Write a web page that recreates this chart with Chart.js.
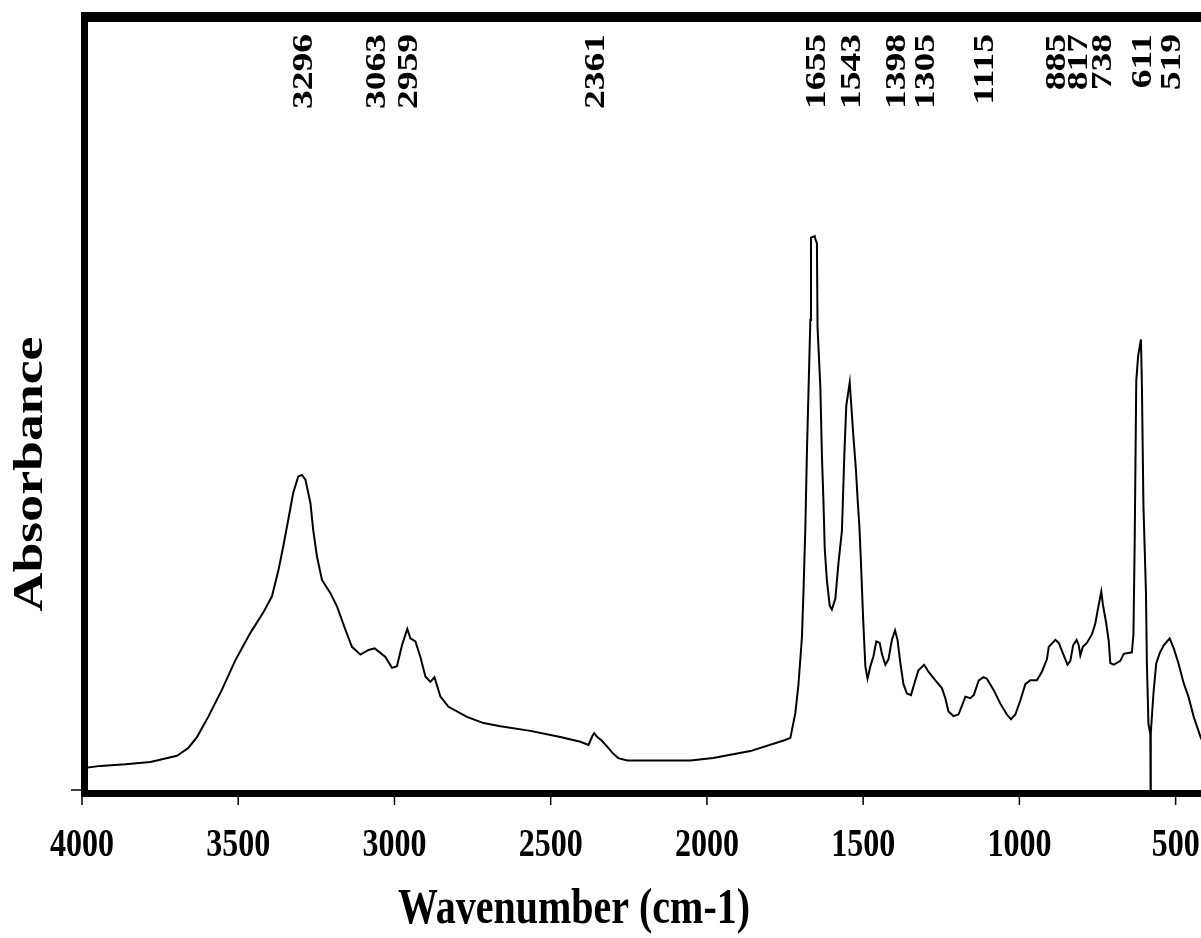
<!DOCTYPE html>
<html>
<head>
<meta charset="utf-8">
<title>FTIR spectrum</title>
<script src="https://cdn.jsdelivr.net/npm/chart.js@4/dist/chart.umd.min.js"></script>
<style>
  html, body { margin: 0; padding: 0; background: #ffffff; overflow: hidden; }
  #wrap { width: 1215px; height: 938px; }
</style>
</head>
<body>
<div id="wrap"><canvas id="spectrum" width="1215" height="938"></canvas></div>
<script>
// Wavenumber (cm-1) and absorbance (arbitrary units) of the measured spectrum
const wavenumbers = [4000, 3941, 3861, 3781, 3696, 3660, 3632, 3596, 3552, 3509, 3461, 3420, 3392, 3371, 3356, 3340, 3324, 3308, 3296, 3285, 3269, 3260, 3248, 3232, 3205, 3184, 3157, 3136, 3109, 3083, 3063, 3029, 3008, 2992, 2976, 2959, 2949, 2933, 2917, 2901, 2885, 2872, 2853, 2827, 2768, 2715, 2661, 2565, 2469, 2405, 2379, 2367, 2361, 2351, 2338, 2322, 2303, 2284, 2255, 2053, 1980, 1861, 1752, 1733, 1717, 1707, 1696, 1691, 1685, 1680, 1675, 1669, 1667, 1655, 1653, 1648, 1646, 1637, 1632, 1627, 1623, 1616, 1607, 1600, 1589, 1579, 1568, 1560, 1554, 1543, 1538, 1531, 1523, 1518, 1512, 1507, 1500, 1493, 1486, 1477, 1467, 1458, 1447, 1440, 1429, 1419, 1408, 1398, 1390, 1381, 1371, 1360, 1347, 1333, 1323, 1305, 1291, 1269, 1248, 1237, 1227, 1211, 1195, 1184, 1173, 1157, 1146, 1130, 1115, 1104, 1083, 1061, 1040, 1027, 1013, 997, 981, 965, 944, 928, 912, 906, 885, 874, 860, 846, 837, 828, 817, 810, 805, 797, 784, 768, 757, 750, 738, 733, 722, 714, 709, 698, 677, 666, 640, 635, 631, 626, 620, 611, 608, 603, 595, 592, 587, 581, 580, 579, 571, 562, 551, 538, 519, 506, 491, 474, 459, 442, 421, 400];

const absorbance = [0.028, 0.031, 0.033, 0.036, 0.044, 0.054, 0.068, 0.094, 0.129, 0.167, 0.202, 0.228, 0.249, 0.283, 0.313, 0.347, 0.382, 0.403, 0.405, 0.399, 0.369, 0.334, 0.300, 0.270, 0.253, 0.236, 0.206, 0.184, 0.174, 0.180, 0.182, 0.171, 0.157, 0.159, 0.186, 0.207, 0.195, 0.191, 0.171, 0.146, 0.139, 0.145, 0.120, 0.107, 0.094, 0.086, 0.082, 0.076, 0.068, 0.062, 0.058, 0.069, 0.073, 0.068, 0.064, 0.057, 0.048, 0.041, 0.038, 0.038, 0.041, 0.050, 0.064, 0.067, 0.099, 0.136, 0.196, 0.255, 0.338, 0.434, 0.512, 0.604, 0.710, 0.712, 0.708, 0.703, 0.595, 0.517, 0.430, 0.370, 0.310, 0.269, 0.237, 0.232, 0.246, 0.292, 0.333, 0.434, 0.494, 0.524, 0.494, 0.453, 0.411, 0.375, 0.338, 0.292, 0.219, 0.159, 0.143, 0.159, 0.172, 0.191, 0.189, 0.175, 0.161, 0.168, 0.193, 0.205, 0.193, 0.163, 0.136, 0.124, 0.122, 0.141, 0.154, 0.161, 0.152, 0.141, 0.131, 0.118, 0.101, 0.095, 0.097, 0.108, 0.120, 0.118, 0.122, 0.141, 0.145, 0.143, 0.129, 0.111, 0.097, 0.091, 0.097, 0.115, 0.136, 0.141, 0.141, 0.152, 0.168, 0.184, 0.193, 0.189, 0.175, 0.161, 0.166, 0.186, 0.193, 0.186, 0.173, 0.184, 0.189, 0.200, 0.214, 0.230, 0.255, 0.239, 0.214, 0.191, 0.163, 0.161, 0.166, 0.175, 0.177, 0.200, 0.320, 0.526, 0.558, 0.579, 0.522, 0.365, 0.255, 0.163, 0.085, 0.072, -0.05, 0.073, 0.124, 0.163, 0.176, 0.186, 0.195, 0.182, 0.163, 0.137, 0.120, 0.094, 0.069, 0.049];

// Band positions marked above the spectrum (cm-1)
const peakPositions = [3296, 3063, 2959, 2361, 1655, 1543, 1398, 1305, 1115, 885, 817, 738, 611, 519];

// Wavenumber axis tick values
const xTickValues = [4000, 3500, 3000, 2500, 2000, 1500, 1000, 500];

const xTitle = 'Wavenumber (cm-1)';
const yTitle = 'Absorbance';

const points = wavenumbers.map((w, i) => ({ x: w, y: absorbance[i] }));

const SERIF = '"Liberation Serif", "Times New Roman", serif';

// Frame, ticks and all text drawn on top of the plot
const decorations = {
  id: 'decorations',
  afterDraw(chart) {
    const ctx = chart.ctx;
    const area = chart.chartArea;
    const xs = chart.scales.x;
    const ys = chart.scales.y;
    const y0 = ys.getPixelForValue(0);
    ctx.save();
    ctx.fillStyle = '#000';

    // heavy frame
    const L = area.left - 1;
    ctx.fillRect(L, area.top, 7, y0 + 7 - area.top);             // left
    ctx.fillRect(L, area.top, area.right - L, 10);               // top
    ctx.fillRect(L, y0, area.right - L, 7);                      // bottom
    ctx.fillRect(area.right - 7, area.top, 7, y0 + 7 - area.top); // right

    // y baseline tick
    ctx.fillRect(L - 10, y0 - 0.75, 10, 1.5);

    // x ticks and their labels
    ctx.textAlign = 'center';
    ctx.textBaseline = 'alphabetic';
    ctx.font = 'bold 32px ' + SERIF;
    xTickValues.forEach(v => {
      const px = xs.getPixelForValue(v);
      ctx.fillRect(px - 0.75, y0 + 7, 1.5, 8);
      ctx.save();
      ctx.translate(px, 856);
      ctx.scale(1, 1.25);
      ctx.fillText(String(v), 0, 0);
      ctx.restore();
    });

    // x axis title
    ctx.save();
    ctx.font = 'bold 40px ' + SERIF;
    ctx.translate(574, 923);
    ctx.scale(1, 1.27);
    ctx.fillText(xTitle, 0, 0);
    ctx.restore();

    // y axis title
    ctx.save();
    ctx.font = 'bold 42px ' + SERIF;
    ctx.translate(42, 474);
    ctx.scale(1, 1.28);
    ctx.rotate(-Math.PI / 2);
    ctx.textAlign = 'center';
    ctx.textBaseline = 'alphabetic';
    ctx.fillText(yTitle, 0, 0);
    ctx.restore();

    // band labels, vertical
    ctx.font = 'bold 30px ' + SERIF;
    peakPositions.forEach(p => {
      const px = xs.getPixelForValue(p);
      ctx.save();
      ctx.translate(px + 10, 34);
      ctx.scale(1, 1.25);
      ctx.rotate(-Math.PI / 2);
      ctx.textAlign = 'right';
      ctx.textBaseline = 'alphabetic';
      ctx.fillText(String(p), 0, 0);
      ctx.restore();
    });

    ctx.restore();
  }
};

new Chart(document.getElementById('spectrum'), {
  type: 'line',
  data: {
    datasets: [{
      data: points,
      borderColor: '#000000',
      borderWidth: 2,
      pointRadius: 0,
      tension: 0,
      fill: false
    }]
  },
  options: {
    responsive: false,
    animation: false,
    devicePixelRatio: 1,
    layout: { padding: { left: 82, right: 5, top: 12, bottom: 148 } },
    plugins: { legend: { display: false }, tooltip: { enabled: false } },
    scales: {
      x: { type: 'linear', reverse: true, min: 390, max: 4000, display: false },
      y: { type: 'linear', min: 0, max: 1, display: false }
    }
  },
  plugins: [decorations]
});
</script>
</body>
</html>
